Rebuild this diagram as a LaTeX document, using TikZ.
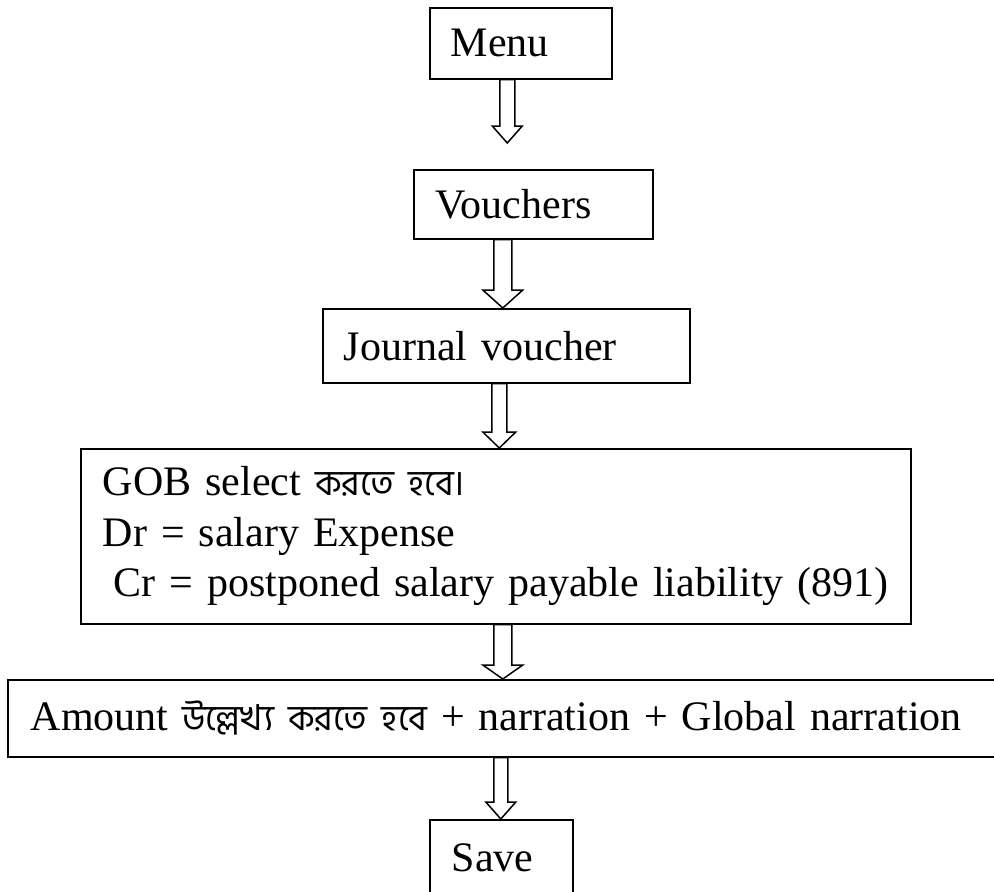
\documentclass[tikz,border=0pt]{standalone}
\usepackage{fontspec}
\setmainfont{Liberation Serif}
\newfontfamily\bn[Script=Bengali,Scale=0.85]{Hind Siliguri}
\usetikzlibrary{calc}
\newcommand\blockarrow[5]{%
  \draw[barrow] let \p1=(#1), \p2=(#2) in
    (\x1-#4pt,\y1) -- (\x1-#4pt,\y2+#3pt) -- (\x1-#5pt,\y2+#3pt) -- (\x2,\y2)
    -- (\x1+#5pt,\y2+#3pt) -- (\x1+#4pt,\y2+#3pt) -- (\x1+#4pt,\y1) -- cycle;}
\begin{document}
\begin{tikzpicture}[x=1pt,y=1pt,
  box/.style={draw, line width=1.6pt, anchor=north west, align=left,
    inner xsep=21pt, inner ysep=0pt, font=\fontsize{42}{50.5}\selectfont},
  barrow/.style={draw, line width=1.5pt, fill=white, line join=miter}]
\clip (0,0) rectangle (994,-892);
\node[box, minimum width=182pt, minimum height=71pt, text width=140pt] (menu) at (429,-7) {Menu};
\node[box, minimum width=239pt, minimum height=69pt, text width=195pt, inner xsep=22pt] (vouch) at (413,-169) {Vouchers};
\node[box, minimum width=367pt, minimum height=74pt, text width=325pt] (journal) at (322,-308) {Journal voucher};
\node[box, minimum width=830pt, minimum height=175pt, text width=786pt, inner xsep=22pt] (gob) at (80,-448)
  {\mbox{GOB select {\bn করতে হবে।}}\\\mbox{Dr = salary Expense}\\\mbox{\hspace*{11pt}Cr = postponed salary payable liability (891)}};
\node[box, minimum width=1000pt, minimum height=77pt, text width=954pt, inner xsep=23pt] (amount) at (7,-679)
  {\mbox{Amount {\bn উল্লেখ্য করতে হবে} + narration + Global narration}};
\node[box, minimum width=143pt, minimum height=76pt, text width=99pt, inner xsep=22pt] (save) at (429,-819) {Save};
% arrows
\path (menu.south) ++(-13.5,0) coordinate (a1s);
\coordinate (a1e) at ($(a1s |- vouch.north)+(0,26)$);
\blockarrow{a1s}{a1e}{17}{7.5}{15}
\path (vouch.south) ++(-30.5,0) coordinate (a2s);
\coordinate (a2e) at (a2s |- journal.north);
\blockarrow{a2s}{a2e}{18}{9}{20}
\path (journal.south) ++(-7,0) coordinate (a3s);
\coordinate (a3e) at (a3s |- gob.north);
\blockarrow{a3s}{a3e}{16}{7.5}{16.5}
\path (gob.south) ++(7,0) coordinate (a4s);
\coordinate (a4e) at (a4s |- amount.north);
\blockarrow{a4s}{a4e}{14}{9}{20}
\path (amount.south) ++(-7,0) coordinate (a5s);
\coordinate (a5e) at (a5s |- save.north);
\blockarrow{a5s}{a5e}{17}{7}{15}
\end{tikzpicture}
\end{document}
